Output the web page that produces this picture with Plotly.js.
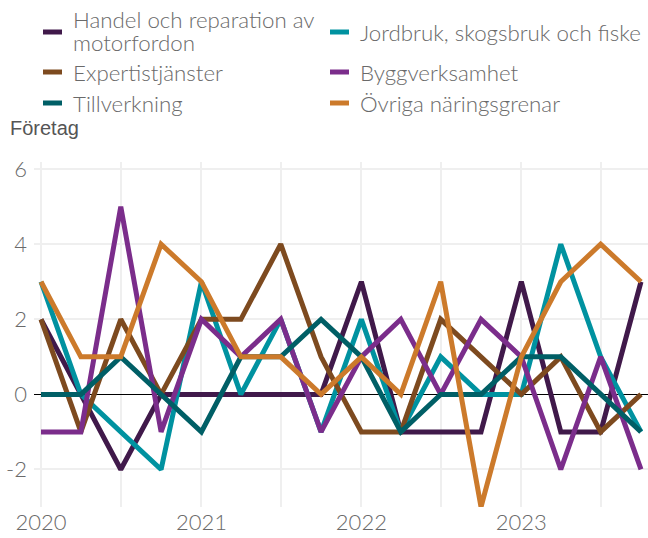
<!DOCTYPE html>
<html>
<head>
<meta charset="utf-8">
<script src="https://cdn.plot.ly/plotly-3.0.1.min.js"></script>
<style>
html,body{margin:0;padding:0;background:#fff;}
#chart{width:648px;height:538px;}
</style>
</head>
<body>
<div id="chart"></div>
<script>
const quarters = ['2020-01-01','2020-04-01','2020-07-01','2020-10-01',
                  '2021-01-01','2021-04-01','2021-07-01','2021-10-01',
                  '2022-01-01','2022-04-01','2022-07-01','2022-10-01',
                  '2023-01-01','2023-04-01','2023-07-01','2023-10-01'];
const handel       = [2, 0, -2, 0, 0, 0, 0, 0, 3, -1, -1, -1, 3, -1, -1, 3];
const jordbruk     = [3, 0, -1, -2, 3, 0, 2, -1, 2, -1, 1, 0, 0, 4, 1, -1];
const expertis     = [2, -1, 2, 0, 2, 2, 4, 1, -1, -1, 2, 1, 0, 1, -1, 0];
const bygg         = [-1, -1, 5, -1, 2, 1, 2, -1, 1, 2, 0, 2, 1, -2, 1, -2];
const tillverkning = [0, 0, 1, 0, -1, 1, 1, 2, 1, -1, 0, 0, 1, 1, 0, -1];
const ovriga       = [3, 1, 1, 4, 3, 1, 1, 0, 1, 0, 3, -3, 1, 3, 4, 3];

const seriesNames = ['Handel och reparation av<br>motorfordon', 'Jordbruk, skogsbruk och fiske',
                     'Expertistjänster', 'Byggverksamhet', 'Tillverkning', 'Övriga näringsgrenar'];
const seriesData = [handel, jordbruk, expertis, bygg, tillverkning, ovriga];
const seriesColors = ['#40194a', '#0092a0', '#7d4a1f', '#7b2d8b', '#005f66', '#cc7a2b'];

const xTickVals = ['2020-01-01','2020-07-01','2021-01-01','2021-07-01',
                   '2022-01-01','2022-07-01','2023-01-01','2023-07-01'];
const xTickText = ['2020','','2021','','2022','','2023',''];
const yTickVals = [-2, 0, 2, 4, 6];
const yTickText = ['-2', '0', '2', '4', '6'];

const traces = seriesData.map((d, i) => ({
  x: quarters, y: d, type: 'scatter', mode: 'lines',
  name: seriesNames[i],
  line: {color: seriesColors[i], width: 5},
  hoverinfo: 'x+y+name'
}));

const txtFont = {family: 'Lato, sans-serif', size: 22, color: '#6a6a6a', weight: 300};
const legFont = {family: 'Lato, sans-serif', size: 22.3, color: '#6a6a6a', weight: 300};

const layout = {
  width: 648, height: 538,
  margin: {l: 34, r: 0, t: 162, b: 31, autoexpand: false},
  paper_bgcolor: '#fff', plot_bgcolor: '#fff',
  font: txtFont,
  showlegend: true,
  legend: {
    orientation: 'h', xref: 'container', yref: 'container',
    x: 33/648, xanchor: 'left', y: 1, yanchor: 'top',
    entrywidth: 245, entrywidthmode: 'pixels',
    font: legFont,
    valign: 'middle', bgcolor: 'rgba(0,0,0,0)'
  },
  xaxis: {
    type: 'date', range: ['2019-12-16', '2023-10-17'],
    tickvals: xTickVals, ticktext: xTickText,
    showgrid: true, gridcolor: '#efefef', gridwidth: 2,
    zeroline: false, showline: false, ticks: '',
    tickfont: txtFont
  },
  yaxis: {
    range: [-3.0, 6.19], tickvals: yTickVals, ticktext: yTickText,
    showgrid: true, gridcolor: '#efefef', gridwidth: 2,
    zeroline: true, zerolinecolor: '#000', zerolinewidth: 1.5,
    showline: false, ticks: '', ticklabelstandoff: 6,
    tickfont: txtFont
  },
  annotations: [{
    text: 'Företag', xref: 'paper', yref: 'paper',
    x: -0.0423, xanchor: 'left', y: 1.0986, yanchor: 'middle',
    showarrow: false,
    font: {family: 'Liberation Sans, Arial, sans-serif', size: 20, color: '#555'}
  }]
};

// legend row centres (px from top) and column symbol start (px from left)
const legendRowY = [32, 32, 72, 72, 103, 103];
const legendColX = [43, 330, 43, 330, 43, 330];

function fixLegend() {
  const legend = document.querySelector('.legend');
  if (!legend) return;
  legend.querySelectorAll('[clip-path]').forEach(el => el.removeAttribute('clip-path'));
  const root = document.getElementById('chart').getBoundingClientRect();
  legend.querySelectorAll('g.traces').forEach((g, i) => {
    const path = g.querySelector('.legendlines path');
    if (path) {
      path.setAttribute('d', 'M10,0h19');
      path.style.strokeWidth = '5px';
    }
    const txt = g.querySelector('text.legendtext');
    const lines = txt ? txt.querySelectorAll('tspan.line') : [];
    if (lines.length > 1) {
      for (let k = 1; k < lines.length; k++) lines[k].setAttribute('dy', '1.05em');
    }
    if (!path) return;
    const pr = path.getBoundingClientRect();
    const dy = legendRowY[i] - (pr.top - root.top);
    const dx = legendColX[i] - (pr.left - root.left);
    const tr = g.getAttribute('transform') || 'translate(0,0)';
    const m = /translate\(\s*([-\d.e]+)[\s,]+([-\d.e]+)\s*\)/.exec(tr);
    const x0 = m ? parseFloat(m[1]) : 0, y0 = m ? parseFloat(m[2]) : 0;
    g.setAttribute('transform', 'translate(' + (x0 + dx) + ',' + (y0 + dy) + ')');
    if (lines.length > 1 && txt) {
      const tb = txt.getBoundingClientRect();
      const pr2 = path.getBoundingClientRect();
      const shift = (pr2.top - 1) - (tb.top + tb.height / 2);
      txt.setAttribute('transform', 'translate(0,' + shift + ')');
    }
  });
}

Plotly.newPlot('chart', traces, layout, {displayModeBar: false, staticPlot: true}).then(gd => {
  fixLegend();
});
</script>
</body>
</html>
